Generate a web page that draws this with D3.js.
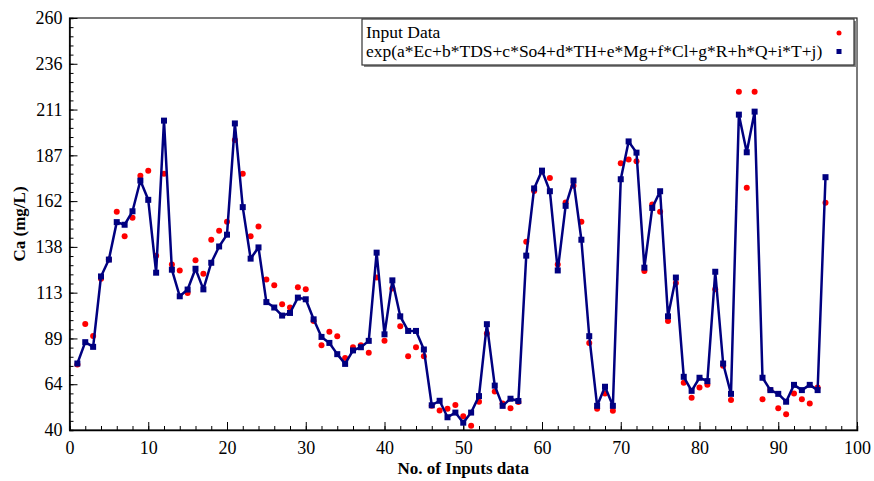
<!DOCTYPE html>
<html>
<head>
<meta charset="utf-8">
<script src="https://cdn.jsdelivr.net/npm/d3@7"></script>
<style>
  body { margin: 0; background: #fff; }
  svg text { font-family: "Liberation Serif", "Times New Roman", serif; fill: #000; }
</style>
</head>
<body>
<script>
  // measured Ca values, sample no. 1..96
  const inputData = [
    75, 96.6, 90.2, 120.8, 131, 156.5, 143.4, 153.3, 175.7, 178.4,
    133, 176.8, 128.4, 125.2, 113.2, 130.6, 123.5, 141.6, 146.4, 151.2,
    194.9, 176.8, 143.4, 148.7, 120.4, 117.3, 107.1, 105.4, 116.2, 115.1,
    98.2, 85.3, 92.4, 90.1, 78.5, 84.2, 85.3, 81.2, 121.4, 87.6,
    115.5, 95.4, 79.4, 84.2, 79.4, 53, 50.4, 51.4, 53.4, 47.3,
    42.3, 55.1, 91.5, 60.5, 54.2, 51.6, 55, 140.5, 167.6, 178,
    174.5, 128.4, 161.5, 170.4, 151.2, 86.5, 51.4, 59.5, 50.3, 182.4,
    184.4, 183.5, 124.9, 160.4, 156.5, 98.2, 118.5, 65.2, 57.2, 62.7,
    64.1, 115.1, 74.3, 56, 220.6, 169.3, 220.6, 56.4, 61.3, 51.6,
    48.4, 59.5, 56.4, 54.2, 62.7, 161.3
  ];

  // exp(...) model output
  const modelData = [
    75.5, 86.9, 84.4, 122, 131, 151, 149.6, 156.8, 173.2, 162.9,
    124, 205.2, 125.6, 111.4, 115, 126.1, 115.1, 129.3, 138, 144.3,
    203.7, 159, 131.5, 137.5, 108.3, 105.4, 101.1, 102.5, 110.7, 109.8,
    99.1, 89.7, 86.5, 80.5, 75.3, 82.5, 84.2, 87.6, 134.7, 91.1,
    119.9, 100.7, 92.9, 92.9, 83, 53.2, 55.6, 46.8, 49.3, 43.9,
    49.3, 58.1, 96.5, 63.7, 52.9, 56.7, 55.5, 133.1, 169, 178.5,
    167.5, 125.2, 159.7, 173.2, 141.6, 90.1, 52.9, 63.1, 52.9, 173.9,
    194.1, 188.1, 126.7, 158.6, 167.5, 100.7, 121.4, 68.4, 60.9, 67.9,
    66.1, 124.5, 75.5, 59.3, 208.4, 188.3, 210, 67.9, 61.3, 59.3,
    55.1, 64.1, 61.3, 64.1, 61.3, 175
  ];

  const yTickLabels = ["40", "64", "89", "113", "138", "162", "187", "211", "236", "260"];
  const xTicks = [0, 10, 20, 30, 40, 50, 60, 70, 80, 90, 100];
  const legendLabels = ["Input Data", "exp(a*Ec+b*TDS+c*So4+d*TH+e*Mg+f*Cl+g*R+h*Q+i*T+j)"];

  const width = 874, height = 481;
  const margin = { top: 18, right: 17, bottom: 51, left: 69.5 };
  const navy = "#000080", red = "#ff0000";

  const svg = d3.select("body").append("svg")
    .attr("width", width)
    .attr("height", height);

  const x = d3.scaleLinear().domain([0, 100]).range([margin.left, width - margin.right]);
  const y = d3.scaleLinear().domain([40, 260]).range([height - margin.bottom, margin.top]);

  const yTickVals = yTickLabels.map((d, i) => 40 + i * 220 / 9);
  const yMinor = d3.range(0, 46).map(i => 40 + i * 220 / 45);
  const xMinor = d3.range(0, 101, 2);

  const plotL = margin.left, plotR = width - margin.right;
  const plotT = margin.top, plotB = height - margin.bottom;

  // frame
  svg.append("rect")
    .attr("x", plotL).attr("y", plotT)
    .attr("width", plotR - plotL).attr("height", plotB - plotT)
    .attr("fill", "none").attr("stroke", "#222").attr("stroke-width", 1.2);

  // x axis, ticks inward
  const xAxis = svg.append("g").attr("transform", `translate(0,${plotB})`)
    .call(d3.axisBottom(x).tickValues(xMinor).tickSize(-4).tickFormat(""));
  xAxis.selectAll("line").attr("stroke", "#000");
  xAxis.select(".domain").attr("stroke", "#000").attr("stroke-width", 1.5);

  const xMajor = svg.append("g").attr("transform", `translate(0,${plotB})`)
    .call(d3.axisBottom(x).tickValues(xTicks).tickSize(-8).tickPadding(11).tickFormat(d3.format("d")));
  xMajor.select(".domain").remove();
  xMajor.selectAll("line").attr("stroke", "#000");
  xMajor.selectAll("text")
    .attr("font-family", "Liberation Serif, serif")
    .attr("font-size", 18)
    .attr("fill", "#000");

  // y axis, ticks inward
  const yAxis = svg.append("g").attr("transform", `translate(${plotL},0)`)
    .call(d3.axisLeft(y).tickValues(yMinor).tickSize(-4).tickFormat(""));
  yAxis.selectAll("line").attr("stroke", "#000");
  yAxis.select(".domain").attr("stroke", "#000").attr("stroke-width", 1.5);

  const yMajor = svg.append("g").attr("transform", `translate(${plotL},0)`)
    .call(d3.axisLeft(y).tickValues(yTickVals).tickSize(-8).tickPadding(7)
      .tickFormat((d, i) => yTickLabels[i]));
  yMajor.select(".domain").remove();
  yMajor.selectAll("line").attr("stroke", "#000");
  yMajor.selectAll("text")
    .attr("font-family", "Liberation Serif, serif")
    .attr("font-size", 18)
    .attr("fill", "#000");

  // axis titles
  svg.append("text")
    .attr("x", (plotL + plotR) / 2)
    .attr("y", 474)
    .attr("text-anchor", "middle")
    .attr("font-size", 17)
    .attr("font-weight", "bold")
    .text("No. of Inputs data");

  svg.append("text")
    .attr("transform", `translate(25,${(plotT + plotB) / 2}) rotate(-90)`)
    .attr("text-anchor", "middle")
    .attr("font-size", 17)
    .attr("font-weight", "bold")
    .text("Ca (mg/L)");

  // input data: red dots (drawn under the model line)
  svg.append("g").selectAll("circle")
    .data(inputData)
    .join("circle")
    .attr("cx", (d, i) => x(i + 1))
    .attr("cy", d => y(d))
    .attr("r", 3)
    .attr("fill", red);

  const line = d3.line()
    .x((d, i) => x(i + 1))
    .y(d => y(d));

  svg.append("path")
    .datum(modelData)
    .attr("d", line)
    .attr("fill", "none")
    .attr("stroke", navy)
    .attr("stroke-width", 2.5)
    .attr("stroke-linejoin", "round");

  svg.append("g").selectAll("rect")
    .data(modelData)
    .join("rect")
    .attr("x", (d, i) => x(i + 1) - 3)
    .attr("y", d => y(d) - 3)
    .attr("width", 6)
    .attr("height", 6)
    .attr("fill", navy);

  // legend
  const lg = svg.append("g");
  lg.append("rect")
    .attr("x", 364).attr("y", 21)
    .attr("width", 493).attr("height", 46)
    .attr("fill", "#888");
  lg.append("rect")
    .attr("x", 362).attr("y", 19)
    .attr("width", 492).attr("height", 46)
    .attr("fill", "#fff").attr("stroke", "#333").attr("stroke-width", 1.2);

  lg.selectAll("text.lab")
    .data(legendLabels)
    .join("text")
    .attr("class", "lab")
    .attr("x", 366)
    .attr("y", (d, i) => 38 + i * 19)
    .attr("font-size", 17.5)
    .text(d => d);

  lg.append("circle").attr("cx", 839).attr("cy", 33).attr("r", 2.5).attr("fill", red);
  lg.append("rect").attr("x", 836.5).attr("y", 49).attr("width", 5).attr("height", 5).attr("fill", navy);
</script>
</body>
</html>
